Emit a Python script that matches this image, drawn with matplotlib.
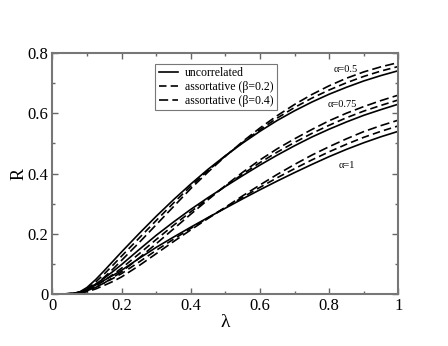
import numpy as np
import matplotlib
matplotlib.use("Agg")
import matplotlib.pyplot as plt
from matplotlib.ticker import MultipleLocator, FormatStrFormatter

plt.rcParams['font.family'] = ['Liberation Serif', 'DejaVu Serif']

# lambda grid
lam = [0.0, 0.03, 0.06, 0.08, 0.1, 0.125, 0.15, 0.175, 0.2, 0.25, 0.3, 0.35, 0.4, 0.45,
       0.5, 0.55, 0.6, 0.65, 0.7, 0.75, 0.8, 0.85, 0.9, 0.95, 1.0]

# alpha = 0.5
a05_unc = [0.0, 0.0005, 0.002, 0.008, 0.022, 0.048, 0.078, 0.109, 0.14, 0.2, 0.258, 0.313, 0.365, 0.414,
           0.459, 0.501, 0.54, 0.576, 0.608, 0.637, 0.663, 0.686, 0.707, 0.725, 0.741]
a05_b02 = [0.0, 0.0004, 0.0018, 0.006, 0.017, 0.04, 0.067, 0.096, 0.126, 0.185, 0.244, 0.302, 0.358, 0.41,
           0.458, 0.503, 0.545, 0.584, 0.619, 0.65, 0.677, 0.701, 0.722, 0.74, 0.755]
a05_b04 = [0.0, 0.0003, 0.0015, 0.005, 0.013, 0.032, 0.056, 0.083, 0.112, 0.17, 0.23, 0.29, 0.35, 0.405,
           0.457, 0.506, 0.551, 0.592, 0.629, 0.662, 0.691, 0.716, 0.737, 0.754, 0.768]

# alpha = 0.75
a075_unc = [0.0, 0.0004, 0.002, 0.007, 0.016, 0.033, 0.053, 0.075, 0.098, 0.147, 0.195, 0.239, 0.281, 0.32,
            0.357, 0.393, 0.428, 0.461, 0.492, 0.521, 0.547, 0.571, 0.593, 0.612, 0.63]
a075_b02 = [0.0, 0.0003, 0.0015, 0.005, 0.013, 0.027, 0.045, 0.065, 0.086, 0.133, 0.181, 0.228, 0.273, 0.316,
            0.358, 0.398, 0.436, 0.471, 0.503, 0.533, 0.56, 0.585, 0.607, 0.626, 0.644]
a075_b04 = [0.0, 0.0003, 0.0012, 0.004, 0.01, 0.022, 0.037, 0.055, 0.074, 0.119, 0.167, 0.216, 0.265, 0.313,
            0.36, 0.404, 0.445, 0.482, 0.515, 0.546, 0.575, 0.6, 0.622, 0.642, 0.66]

# alpha = 1
a1_unc = [0.0, 0.0004, 0.002, 0.006, 0.015, 0.03, 0.046, 0.062, 0.079, 0.118, 0.155, 0.189, 0.222, 0.254,
          0.285, 0.316, 0.346, 0.375, 0.403, 0.43, 0.456, 0.48, 0.502, 0.522, 0.54]
a1_b02 = [0.0, 0.0003, 0.0015, 0.004, 0.011, 0.023, 0.037, 0.052, 0.068, 0.106, 0.145, 0.182, 0.218, 0.253,
          0.287, 0.321, 0.354, 0.386, 0.416, 0.445, 0.472, 0.497, 0.52, 0.54, 0.558]
a1_b04 = [0.0, 0.0003, 0.001, 0.003, 0.008, 0.017, 0.029, 0.042, 0.057, 0.094, 0.134, 0.174, 0.213, 0.251,
          0.288, 0.326, 0.362, 0.397, 0.43, 0.461, 0.489, 0.515, 0.539, 0.559, 0.577]

labels = ['uncorrelated', 'assortative (β=0.2)', 'assortative (β=0.4)']
alpha_labels = ['α=0.5', 'α=0.75', 'α=1']
alpha_pos = [(0.847, 0.744), (0.838, 0.630), (0.852, 0.425)]

fig = plt.figure(figsize=(4.48, 3.46), dpi=100)
ax = fig.add_axes([0.117, 0.150, 0.772, 0.697])

groups = [(a05_unc, a05_b02, a05_b04), (a075_unc, a075_b02, a075_b04), (a1_unc, a1_b02, a1_b04)]
styles = [dict(ls='-'), dict(ls=(0, (4.5, 2.5))), dict(ls=(0, (5.5, 2.5)))]
for gi, g in enumerate(groups):
    for si, ys in enumerate(g):
        ax.plot(lam, ys, color='black', lw=1.2, label=labels[si] if gi == 0 else None, **styles[si])

for txt, (x, y) in zip(alpha_labels, alpha_pos):
    ax.text(x, y, txt, fontsize=7.5, ha='center', va='center')

ax.set_xlim(0, 1)
ax.set_ylim(0, 0.8)
ax.xaxis.set_major_locator(MultipleLocator(0.2))
ax.xaxis.set_minor_locator(MultipleLocator(0.1))
ax.yaxis.set_major_locator(MultipleLocator(0.2))
ax.yaxis.set_minor_locator(MultipleLocator(0.1))
ax.xaxis.set_major_formatter(FormatStrFormatter('%g'))
ax.yaxis.set_major_formatter(FormatStrFormatter('%g'))
ax.tick_params(which='both', direction='in', top=True, right=True, colors='#666666',
               labelcolor='black', labelsize=12, width=1)
ax.tick_params(which='major', length=4, pad=3)
ax.tick_params(which='minor', length=2.5)
for s in ax.spines.values():
    s.set_color('#777777')
    s.set_linewidth(1.5)

ax.set_xlabel('λ', fontsize=14, labelpad=0)
ax.set_ylabel('R', fontsize=13, labelpad=0)

leg = ax.legend(loc='upper left', bbox_to_anchor=(0.298, 0.955), fontsize=8.5, frameon=True,
                fancybox=False, edgecolor='#555555', handlelength=1.6, handletextpad=0.6,
                borderpad=0.3, labelspacing=0.15, borderaxespad=0)
leg.get_frame().set_linewidth(0.8)

fig.savefig('out.png', dpi=100)
